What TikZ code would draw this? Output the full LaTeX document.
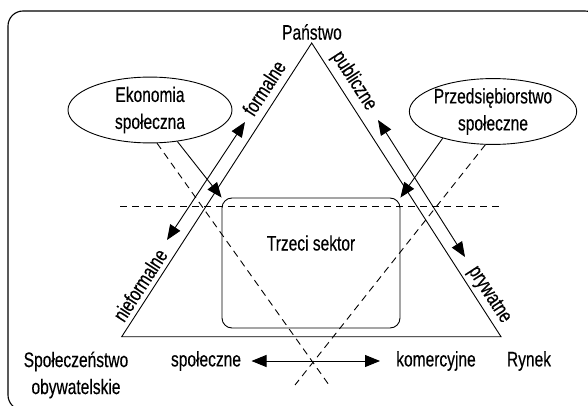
\documentclass[tikz,border=0pt]{standalone}
\usepackage{fontspec}
\setmainfont{Liberation Sans}[FakeStretch=0.74,FakeBold=0.35]
\usetikzlibrary{arrows.meta,shapes.geometric}
\tikzset{
  lbl/.style={inner sep=0pt, font=\fontsize{21}{27}\selectfont, align=center},
  ell/.style={draw, ellipse, line width=0.9pt, minimum width=164pt, minimum height=65pt, inner sep=0pt, font=\fontsize{21}{27}\selectfont, align=center},
  ln/.style={line width=0.9pt},
  dsh/.style={line width=0.9pt, dash pattern=on 7pt off 5pt},
  arr/.style={line width=0.9pt, -{Triangle[length=15pt,width=12pt]}},
  darr/.style={line width=0.9pt, {Triangle[length=15pt,width=12pt]}-{Triangle[length=15pt,width=12pt]}}
}
\begin{document}
\begin{tikzpicture}[x=1pt,y=-1pt]
\useasboundingbox (0,0) rectangle (588,406);
\clip (0,0) rectangle (588,406);
\fill[white] (0,0) rectangle (588,406);
% frame
\draw[line width=1.1pt, rounded corners=15pt] (8,11) rectangle (600,410);
% triangle
\coordinate (P) at (311.7,43);
\coordinate (S) at (121.7,336.7);
\coordinate (R) at (501,336.7);
\draw[ln] (P) -- (S) -- (R) -- cycle;
% third sector
\node[draw, ln, rounded corners=10pt, minimum width=178pt, minimum height=130pt, inner sep=0pt] (ts) at (311,263) {};
\node[lbl] (tst) at (311,243) {Trzeci sektor};
% ellipses
\node[ell] (eko) at (150,110) {Ekonomia\\społeczna};
\node[ell] (prz) at (493,111.5) {Przedsiębiorstwo\\społeczne};
% horizontal dashed
\coordinate (hl) at (120,206);
\coordinate (hr) at (502,206);
\draw[dsh] (hl) -- (hr);
% dashed diagonals
\coordinate (d1) at (329,385);
\coordinate (d2) at (295,385);
\draw[dsh] (eko.-78) -- (d1);
\draw[dsh] (prz.-103) -- (d2);
% solid arrows into third sector
\draw[arr] (eko.-49) -- (ts.north west);
\draw[arr] (prz.208) -- (ts.north east);
% double arrows along sides
\coordinate (la) at (245,122);
\coordinate (lb) at (167,240);
\coordinate (ra) at (378,120);
\coordinate (rb) at (465,257);
\draw[darr] (la) -- (lb);
\draw[darr] (ra) -- (rb);
% side labels
\node[lbl, rotate=57] (formal) at (264,88) {formalne};
\node[lbl, rotate=57] (nieformal) at (140,285) {nieformalne};
\node[lbl, rotate=-57] (publ) at (354,81) {publiczne};
\node[lbl, rotate=-57] (pryw) at (489,295) {prywatne};
% vertex labels
\node[lbl] (panstwo) at (312,32) {Państwo};
\node[lbl] (spol) at (76,375) {Społeczeństwo\\obywatelskie};
\node[lbl] (rynek) at (529,361) {Rynek};
% bottom arrow
\node[lbl] (spolec) at (206,361) {społeczne};
\node[lbl] (komer) at (436,361) {komercyjne};
\coordinate (ba) at (251.5,361);
\coordinate (bb) at (380,361);
\draw[darr] (ba) -- (bb);
\end{tikzpicture}
\end{document}
